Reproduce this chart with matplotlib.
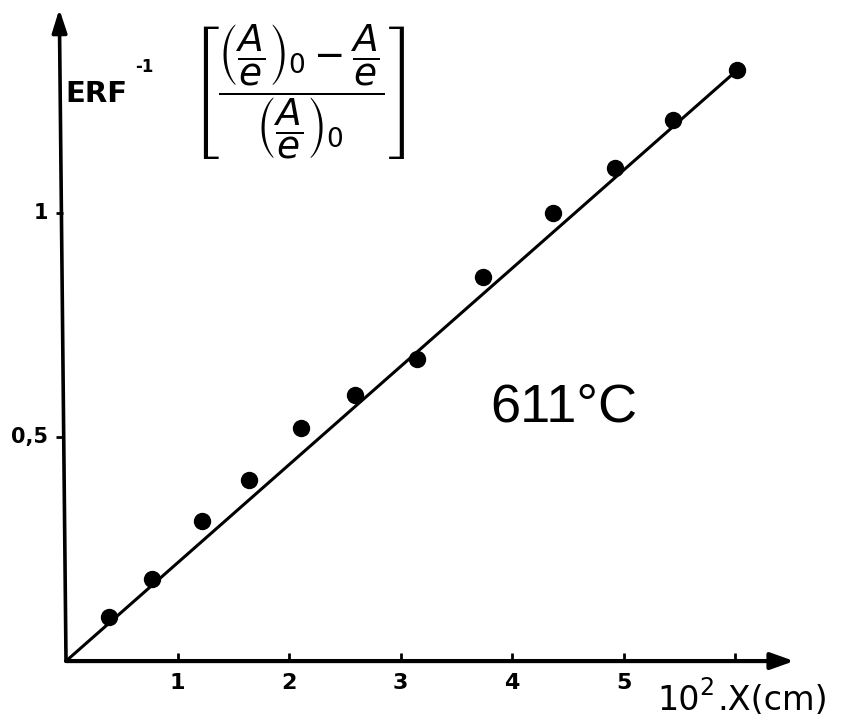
import matplotlib
matplotlib.use('Agg')
import matplotlib.pyplot as plt

# measured points (10^2.X in cm, ERF^-1 of the normalized ratio)
x_pts = [0.39, 0.77, 1.22, 1.64, 2.11, 2.59, 3.15, 3.74, 4.37, 4.92, 5.44, 6.02]
y_pts = [0.098, 0.183, 0.313, 0.404, 0.520, 0.594, 0.674, 0.857, 1.000, 1.100, 1.208, 1.319]

# fitted straight line through the origin
fit_x = [0.0, 6.02]
fit_y = [0.0, 1.319]

x_ticks = [1, 2, 3, 4, 5, 6]
x_tick_labels = ['1', '2', '3', '4', '5', '']
y_ticks = [0.5, 1.0]
y_tick_labels = ['0,5', '1']

plt.rcParams['mathtext.fontset'] = 'dejavusans'

fig = plt.figure(figsize=(8.51, 7.22), dpi=100)
ax = fig.add_axes([0, 0, 1, 1])
ax.set_xlim(-0.592, 7.04)
ax.set_ylim(-0.136, 1.4754)
ax.axis('off')

# axes with arrow heads
ax.annotate('', xy=(6.53, 0), xytext=(0, 0),
            arrowprops=dict(arrowstyle='-|>,head_length=1.4,head_width=0.5',
                            lw=3, color='black', shrinkA=0, shrinkB=0))
ax.annotate('', xy=(-0.06, 1.455), xytext=(0, 0),
            arrowprops=dict(arrowstyle='-|>,head_length=1.4,head_width=0.45',
                            lw=2.6, color='black', shrinkA=0, shrinkB=0))

# small tick marks
ax.plot(x_ticks, [0] * len(x_ticks), linestyle='none', marker=2, markersize=6,
        mew=2, color='black')
ax.plot([-0.03] * len(y_ticks), y_ticks, linestyle='none', marker=0, markersize=5,
        mew=2, color='black')

for xt, lab in zip(x_ticks, x_tick_labels):
    ax.text(xt, -0.05, lab, ha='center', va='center', fontsize=16,
            fontweight='bold', family='DejaVu Sans')
for yt, lab in zip(y_ticks, y_tick_labels):
    ax.text(-0.16, yt, lab, ha='right', va='center', fontsize=15,
            fontweight='bold', family='DejaVu Sans')

# data and fit
ax.plot(fit_x, fit_y, color='black', lw=2.2, solid_capstyle='round')
ax.plot(x_pts, y_pts, 'o', color='black', markersize=11.5)

# labels
ax.text(5.30, -0.088, '10', ha='left', va='center',
        fontsize=24, family='DejaVu Sans')
ax.text(5.68, -0.06, '2', ha='left', va='center',
        fontsize=17, family='DejaVu Sans')
ax.text(5.84, -0.088, '.X(cm)', ha='left', va='center',
        fontsize=24, family='DejaVu Sans')

ax.text(-0.01, 1.248, 'ERF', ha='left', va='baseline',
        fontsize=21, fontweight='bold', family='DejaVu Sans')
ax.text(0.62, 1.325, '-1', ha='left', va='center',
        fontsize=12, fontweight='bold', family='DejaVu Sans')
ax.text(2.08, 1.27,
        r'$\left[\dfrac{\left(\dfrac{A}{e}\right)_{0} - \dfrac{A}{e}}'
        r'{\left(\dfrac{A}{e}\right)_{0}}\right]$',
        ha='center', va='center', fontsize=27)
ax.text(4.46, 0.567, '611°C', ha='center', va='center', fontsize=39,
        family='Liberation Sans')

fig.savefig('out.png', dpi=100)
